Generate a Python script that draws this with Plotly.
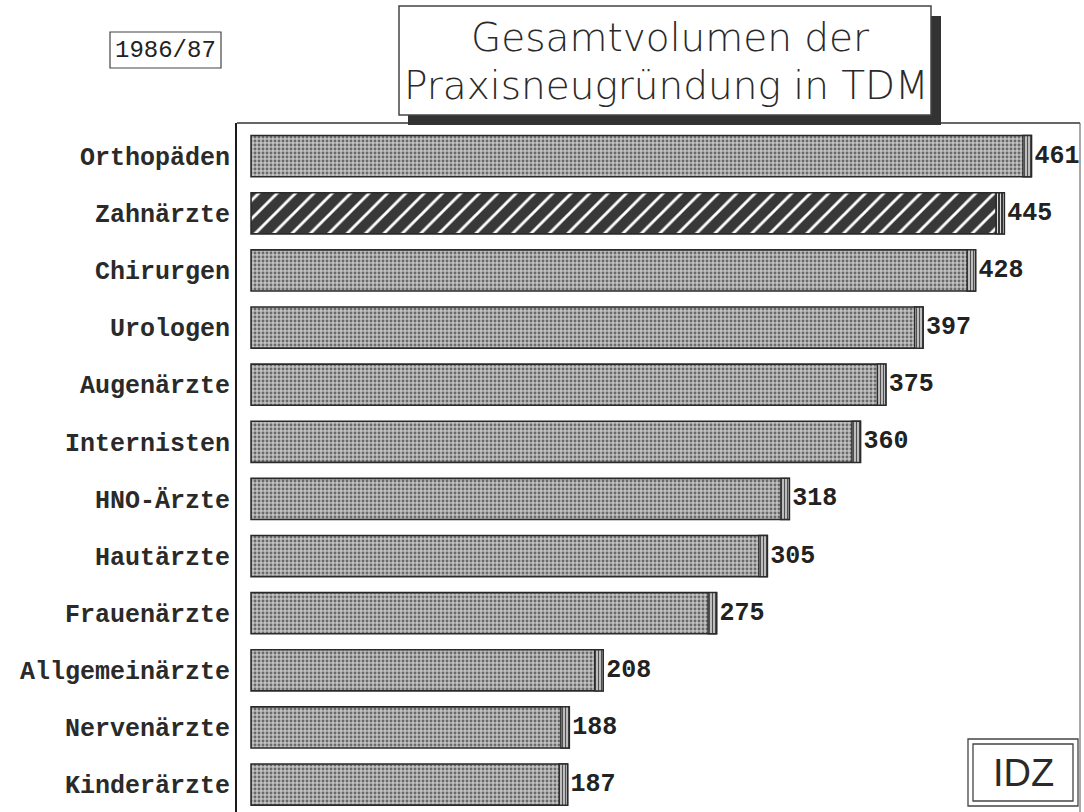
import plotly.graph_objects as go

categories = ["Orthopäden", "Zahnärzte", "Chirurgen", "Urologen", "Augenärzte",
              "Internisten", "HNO-Ärzte", "Hautärzte", "Frauenärzte",
              "Allgemeinärzte", "Nervenärzte", "Kinderärzte"]
values = [461, 445, 428, 397, 375, 360, 318, 305, 275, 208, 188, 187]
highlight = "Zahnärzte"

title_line1 = "Gesamtvolumen der"
title_line2 = "Praxisneugründung in TDM"
period_label = "1986/87"
source_label = "IDZ"

reg_cat = [c for c in categories if c != highlight]
reg_val = [v for c, v in zip(categories, values) if c != highlight]
hi_cat = [c for c in categories if c == highlight]
hi_val = [v for c, v in zip(categories, values) if c == highlight]

cap = 5  # visual depth of the 3D end cap, in axis units
LABEL_FONT = "Liberation Mono"
BAR_W = 0.72
EDGE = dict(color="#2a2a2a", width=1.6)
VAL_FONT = dict(family=LABEL_FONT, size=25, color="#222222", weight="bold")

fig = go.Figure()
fig.add_trace(go.Bar(
    y=reg_cat, x=reg_val, orientation="h", width=BAR_W,
    marker=dict(color="#c2c2c2", line=EDGE,
                pattern=dict(shape=".", bgcolor="#c2c2c2", fgcolor="#6a6a6a",
                             size=4, solidity=0.42, fillmode="replace")),
    text=[str(v) for v in reg_val], textposition="outside", textfont=VAL_FONT,
    constraintext="none", cliponaxis=False, showlegend=False,
))
fig.add_trace(go.Bar(
    y=hi_cat, x=hi_val, orientation="h", width=BAR_W,
    marker=dict(color="#383838", line=EDGE,
                pattern=dict(shape="/", bgcolor="#383838", fgcolor="#ffffff",
                             size=13, solidity=0.22, fillmode="replace")),
    text=[str(v) for v in hi_val], textposition="outside", textfont=VAL_FONT,
    constraintext="none", cliponaxis=False, showlegend=False,
))
fig.add_trace(go.Bar(
    y=reg_cat, x=[cap] * len(reg_val), base=[v - cap for v in reg_val],
    orientation="h", width=BAR_W,
    marker=dict(color="#d4d4d4", line=dict(color="#2a2a2a", width=1.4),
                pattern=dict(shape="|", bgcolor="#d4d4d4", fgcolor="#505050",
                             size=3, solidity=0.45, fillmode="replace")),
    showlegend=False, hoverinfo="skip",
))
fig.add_trace(go.Bar(
    y=hi_cat, x=[cap] * len(hi_val), base=[v - cap for v in hi_val],
    orientation="h", width=BAR_W,
    marker=dict(color="#383838", line=dict(color="#2a2a2a", width=1.4),
                pattern=dict(shape="|", bgcolor="#383838", fgcolor="#dddddd",
                             size=3, solidity=0.35, fillmode="replace")),
    showlegend=False, hoverinfo="skip",
))

def px(x):
    return (x - 237) / 843

def py(y):
    return (812 - y) / 689

fig.update_layout(
    width=1084, height=812,
    margin=dict(l=237, r=4, t=123, b=0, autoexpand=False),
    paper_bgcolor="white", plot_bgcolor="white",
    barmode="overlay",
    xaxis=dict(range=[-8.3, 489.7], showgrid=False, zeroline=False,
               showticklabels=False, ticks="", showline=False),
    yaxis=dict(type="category", categoryorder="array", categoryarray=categories,
               range=[11.48, -0.58], showgrid=False, zeroline=False,
               showline=True, linecolor="#1a1a1a", linewidth=2,
               ticks="", ticklabelstandoff=0, automargin=False,
               tickfont=dict(family=LABEL_FONT, size=25, color="#2a2a2a",
                             weight="bold")),
    shapes=[
        dict(type="line", xref="paper", yref="paper", x0=0, x1=1, y0=1, y1=1,
             line=dict(color="#333333", width=1.5)),
        dict(type="line", xref="paper", yref="paper", x0=1, x1=1, y0=0, y1=1,
             line=dict(color="#555555", width=1)),
        dict(type="rect", xref="paper", yref="paper",
             x0=px(408), x1=px(941), y0=py(125), y1=py(16),
             fillcolor="#333333", line=dict(width=0), layer="above"),
        dict(type="rect", xref="paper", yref="paper",
             x0=px(399), x1=px(931), y0=py(115), y1=py(6),
             fillcolor="white", line=dict(color="#444444", width=1.5),
             layer="above"),
        dict(type="rect", xref="paper", yref="paper",
             x0=px(110), x1=px(221), y0=py(68), y1=py(32),
             fillcolor="white", line=dict(color="#444444", width=1.2)),
        dict(type="rect", xref="paper", yref="paper",
             x0=px(968), x1=px(1078), y0=py(806), y1=py(739),
             fillcolor="white", line=dict(color="#444444", width=1.3),
             layer="above"),
        dict(type="rect", xref="paper", yref="paper",
             x0=px(973), x1=px(1073), y0=py(801), y1=py(744),
             fillcolor="white", line=dict(color="#444444", width=1.3),
             layer="above"),
    ],
    annotations=[
        dict(text=title_line1, xref="paper", yref="paper",
             x=px(670), y=py(37), xanchor="center", yanchor="middle",
             showarrow=False,
             font=dict(family="DejaVu Sans", size=39, color="#2a2a2a", weight=300)),
        dict(text=title_line2, xref="paper", yref="paper",
             x=px(666), y=py(86), xanchor="center", yanchor="middle",
             showarrow=False,
             font=dict(family="DejaVu Sans", size=39, color="#2a2a2a", weight=300)),
        dict(text=period_label, xref="paper", yref="paper",
             x=px(165.5), y=py(50), xanchor="center", yanchor="middle",
             showarrow=False,
             font=dict(family=LABEL_FONT, size=24, color="#222222")),
        dict(text=source_label, xref="paper", yref="paper",
             x=px(1023), y=py(773), xanchor="center", yanchor="middle",
             showarrow=False,
             font=dict(family="Liberation Sans", size=38, color="#2a2a2a")),
    ],
)

fig.write_html("out.html", config={"displayModeBar": False},
               post_script="document.body.style.margin='0';document.body.style.overflow='hidden';")
